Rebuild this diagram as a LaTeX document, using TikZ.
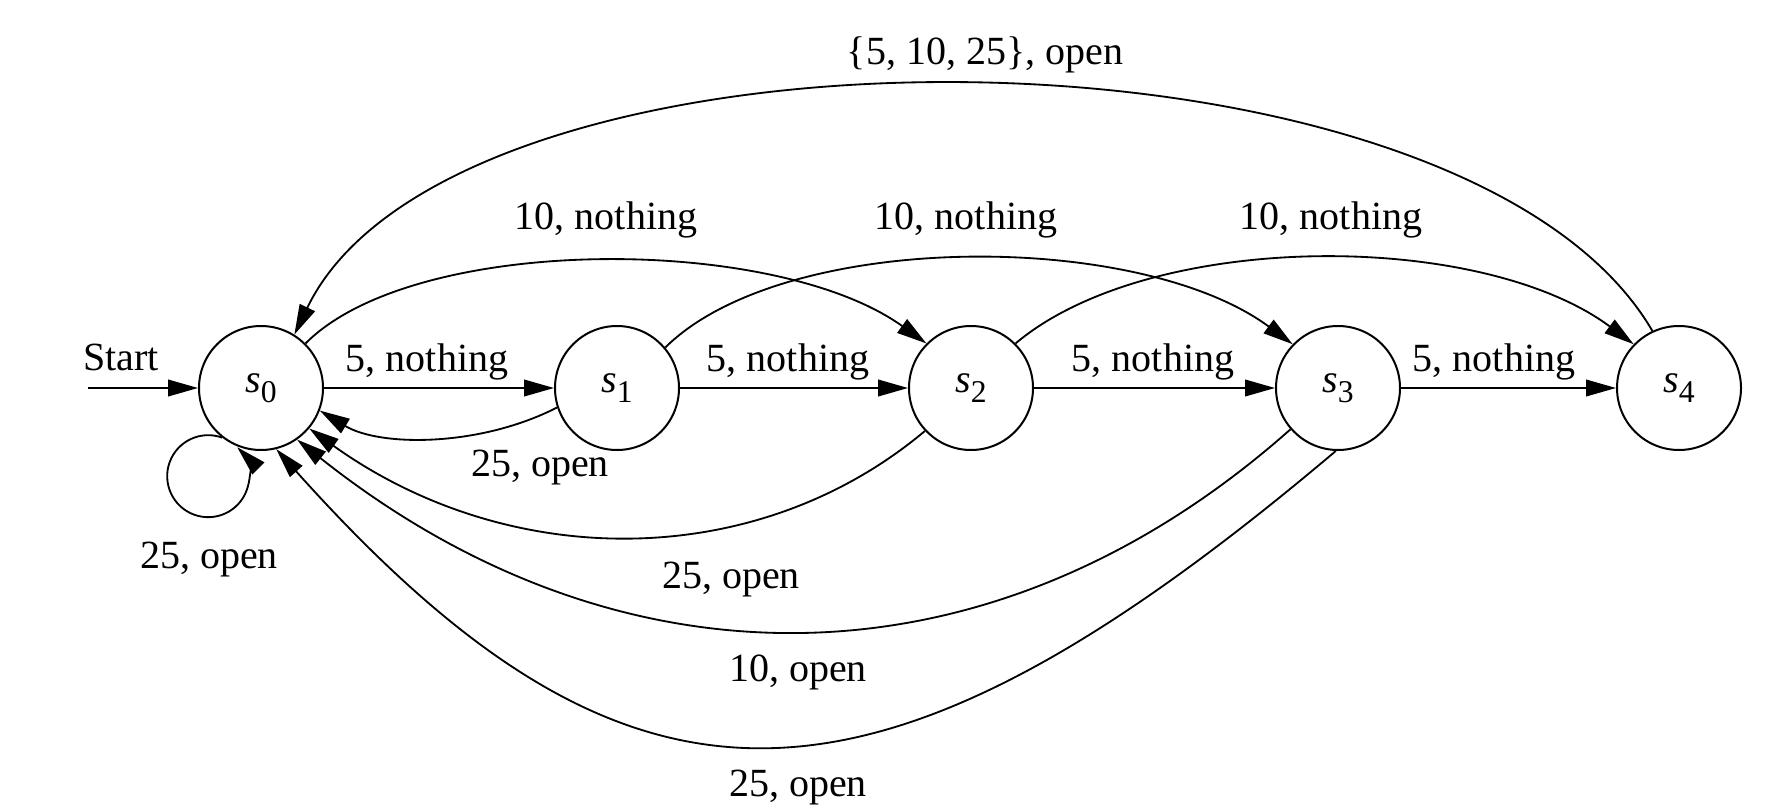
\documentclass[tikz,border=0pt]{standalone}
\usepackage{fontspec}
\setmainfont{Liberation Serif}
\usetikzlibrary{arrows.meta}
\newcommand{\stname}[1]{\textit{s}\raisebox{-3pt}{\fontsize{9.5}{10}\selectfont #1}}
\begin{document}
\begin{tikzpicture}[x=0.3pt,y=0.3pt,
  state/.style={circle,draw,line width=0.6pt,minimum size=37.2pt,inner sep=0pt,font=\fontsize{12}{14}\selectfont},
  lbl/.style={inner sep=0pt,font=\fontsize{12}{14}\selectfont},
  edge/.style={line width=0.55pt,-{Triangle[length=9pt,width=5pt]}}]
\useasboundingbox (0,0) rectangle (1772,808);
\node[state] (s0) at (261,420) {\stname{0}};
\node[state] (s1) at (617,420) {\stname{1}};
\node[state] (s2) at (971,420) {\stname{2}};
\node[state] (s3) at (1338,420) {\stname{3}};
\node[state] (s4) at (1679,420) {\stname{4}};
\coordinate (st) at (88,420);
\draw[edge] (st) -- (s0);
\draw[edge] (s0) -- (s1);
\draw[edge] (s1) -- (s2);
\draw[edge] (s2) -- (s3);
\draw[edge] (s3) -- (s4);
\draw[edge] (s0.45) .. controls (414,574) and (774,574) .. (s2.135);
\draw[edge] (s1.40) .. controls (784,578) and (1138,578) .. (s3.136);
\draw[edge] (s2.45) .. controls (1150,578) and (1480,578) .. (s4.136);
\draw[edge] (s4.115) .. controls (1461,805) and (454,805) .. (s0.58);
\draw[edge] (s1.198) .. controls (480,361) and (380,361) .. (s0.-21);
\draw[edge] (s2.223) .. controls (757,236) and (510,236) .. (s0.-40);
\draw[edge] (s3.221) .. controls (990,112) and (620,112) .. (s0.-55);
\draw[edge] (s3.268) .. controls (871,-36) and (630,-36) .. (s0.-76);
\draw[edge] (s0.232) arc[start angle=70,end angle=405,radius=12.3pt];
\node[lbl] (lstart) at (121,451) {Start};
\node[lbl] (l01) at (427,446) {5, nothing};
\node[lbl] (l12) at (788,446) {5, nothing};
\node[lbl] (l23) at (1153,446) {5, nothing};
\node[lbl] (l34) at (1494,446) {5, nothing};
\node[lbl] (l02) at (606,588) {10, nothing};
\node[lbl] (l13) at (966,588) {10, nothing};
\node[lbl] (l24) at (1331,588) {10, nothing};
\node[lbl] (l40) at (985,753) {\{5, 10, 25\}, open};
\node[lbl] (l10) at (540,340) {25, open};
\node[lbl] (l00) at (209,248) {25, open};
\node[lbl] (l20) at (731,228) {25, open};
\node[lbl] (l30a) at (798,136) {10, open};
\node[lbl] (l30b) at (798,20) {25, open};
\end{tikzpicture}
\end{document}
